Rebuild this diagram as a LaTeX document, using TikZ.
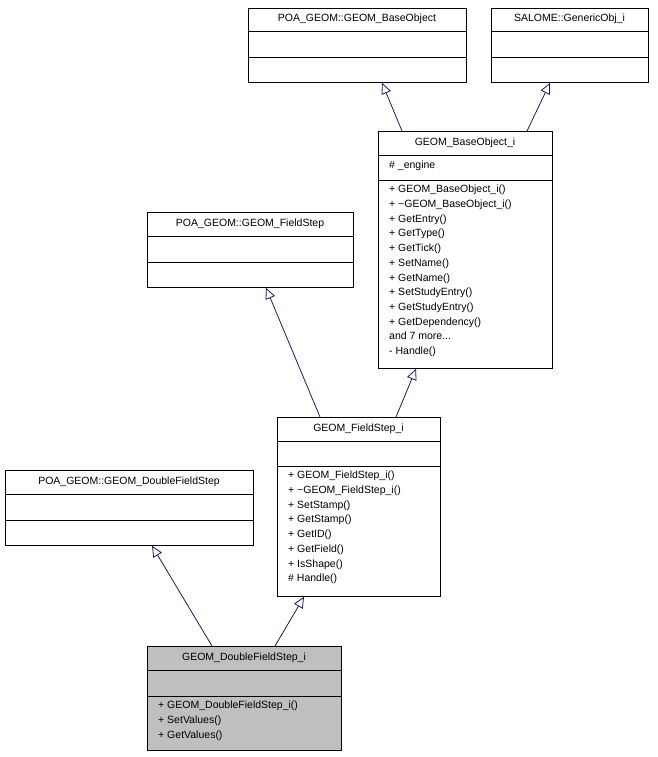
\documentclass[tikz,border=0pt]{standalone}
\usepackage{fontspec}
\setmainfont{Liberation Sans}
\usetikzlibrary{arrows.meta}
\begin{document}
\begin{tikzpicture}[x=1pt,y=-1pt,
  box/.style={draw=black,line width=0.8pt,anchor=north west,inner sep=0pt},
  ttl/.style={font=\fontsize{10.5}{12}\selectfont,anchor=center,inner sep=0pt},
  mem/.style={font=\fontsize{10.5}{14.7}\selectfont,anchor=north west,align=left,inner sep=0pt},
  inh/.style={draw={rgb,255:red,25;green,25;blue,112},line width=0.8pt,-{Triangle[open,length=11pt,width=10pt,fill=white]}}]
\useasboundingbox (0,0) rectangle (657,757);
% helper macro
\newcommand{\umlbox}[8]{% name,x1,y1,x2,y2,ysep1,ysep2,fill
  \node[box,fill=#8,minimum width=#4-#2,minimum height=#5-#3] (#1) at (#2,#3) {};
  \draw[line width=0.8pt] (#2,#6) -- (#4,#6) (#2,#7) -- (#4,#7);}
\umlbox{bo}{248}{8}{466}{82}{31}{57}{white}
\umlbox{go}{491}{8}{648}{82}{31}{57}{white}
\umlbox{boi}{378}{131}{552}{368}{155}{180}{white}
\umlbox{fs}{147}{212}{353}{287}{236}{262}{white}
\umlbox{fsi}{277}{417}{440}{596}{441}{466}{white}
\umlbox{dfs}{5}{470}{253}{545}{494}{520}{white}
\umlbox{dfsi}{147}{646}{341}{750}{670}{696}{black!25}
\node[ttl] (t1) at (357,19) {POA\_GEOM::GEOM\_BaseObject};
\node[ttl] (t2) at (569.5,19) {SALOME::GenericObj\_i};
\node[ttl] (t3) at (465,143) {GEOM\_BaseObject\_i};
\node[ttl] (t4) at (250,224) {POA\_GEOM::GEOM\_FieldStep};
\node[ttl] (t5) at (358.5,429) {GEOM\_FieldStep\_i};
\node[ttl] (t6) at (129,482) {POA\_GEOM::GEOM\_DoubleFieldStep};
\node[ttl] (t7) at (244,658) {GEOM\_DoubleFieldStep\_i};
\node[mem] (m3a) at (389,161) {\# \_engine};
\node[mem] (m3b) at (389,185) {+ GEOM\_BaseObject\_i()\\+ \textasciitilde GEOM\_BaseObject\_i()\\+ GetEntry()\\+ GetType()\\+ GetTick()\\+ SetName()\\+ GetName()\\+ SetStudyEntry()\\+ GetStudyEntry()\\+ GetDependency()\\and 7 more...\\- Handle()};
\node[mem] (m5) at (288,471) {+ GEOM\_FieldStep\_i()\\+ \textasciitilde GEOM\_FieldStep\_i()\\+ SetStamp()\\+ GetStamp()\\+ GetID()\\+ GetField()\\+ IsShape()\\\# Handle()};
\node[mem] (m7) at (158,701) {+ GEOM\_DoubleFieldStep\_i()\\+ SetValues()\\+ GetValues()};
\draw[inh] ([xshift=24pt]boi.north west) -- ([xshift=134pt]bo.south west);
\draw[inh] ([xshift=149pt]boi.north west) -- ([xshift=59pt]go.south west);
\draw[inh] ([xshift=43pt]fsi.north west) -- ([xshift=119pt]fs.south west);
\draw[inh] ([xshift=119pt]fsi.north west) -- ([xshift=38pt]boi.south west);
\draw[inh] ([xshift=65pt]dfsi.north west) -- ([xshift=147pt]dfs.south west);
\draw[inh] ([xshift=128pt]dfsi.north west) -- ([xshift=27pt]fsi.south west);
\end{tikzpicture}
\end{document}
